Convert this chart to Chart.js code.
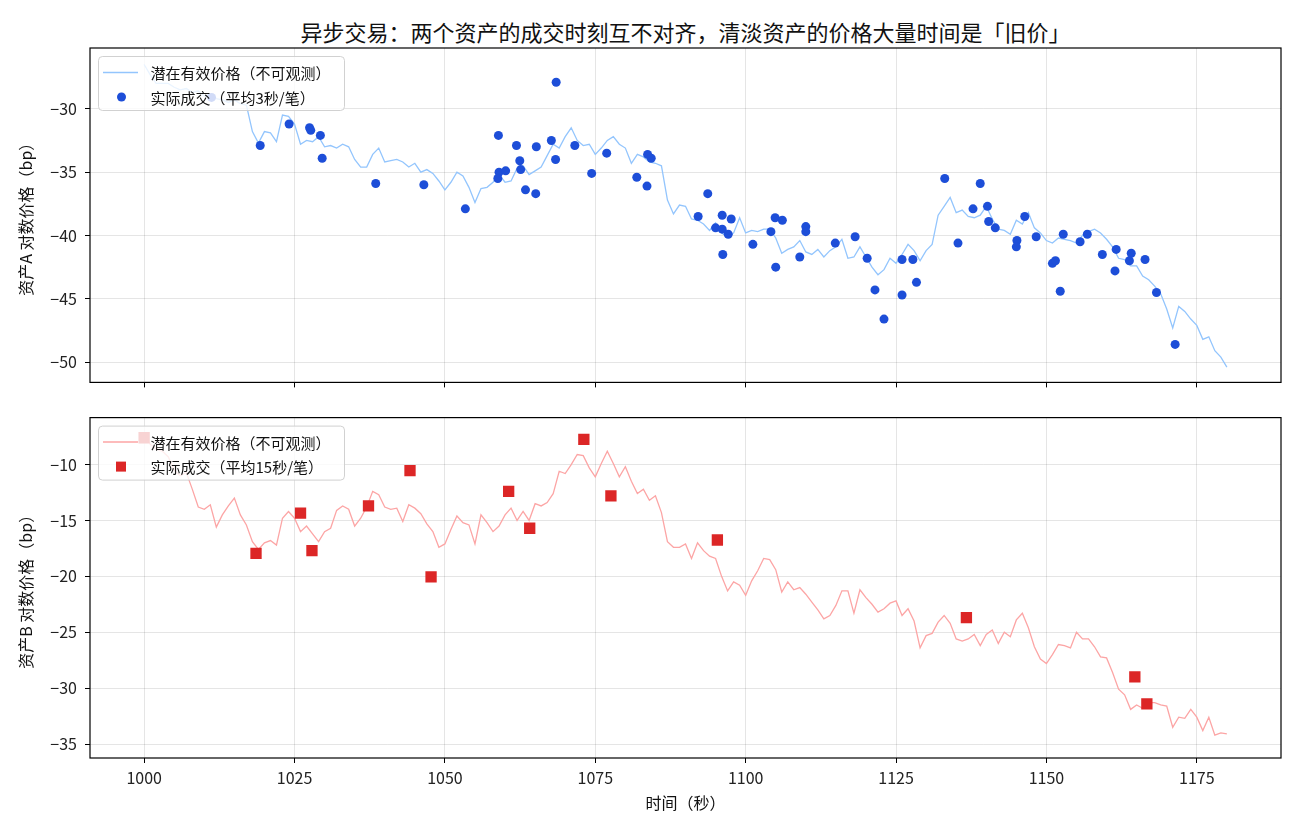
<!DOCTYPE html>
<html lang="zh">
<head>
<meta charset="utf-8">
<title>异步交易</title>
<script src="https://cdn.jsdelivr.net/npm/chart.js@4.4.1/dist/chart.umd.min.js"></script>
<style>
  html, body { margin: 0; padding: 0; background: #fff; }
  #wrap { position: relative; width: 1300px; height: 832px; font-family: 'Noto Sans CJK SC', 'Noto Sans', sans-serif; }
  #title { position: absolute; left: 90px; width: 1191px; top: 16px; text-align: center; font-size: 22px; line-height: 30px; color: #111; }
  canvas { position: absolute; left: 0; }
</style>
</head>
<body>
<div id="wrap">
  <div id="title">异步交易：两个资产的成交时刻互不对齐，清淡资产的价格大量时间是「旧价」</div>
  <canvas id="chart-a" width="1300" height="400" style="top:0"></canvas>
  <canvas id="chart-b" width="1300" height="432" style="top:400px"></canvas>
</div>
<script>
/* ── data ────────────────────────────────────────────────── */

// latent price sampled once per second
const SEC = [
  1000,1001,1002,1003,1004,1005,1006,1007,1008,1009,
  1010,1011,1012,1013,1014,1015,1016,1017,1018,1019,
  1020,1021,1022,1023,1024,1025,1026,1027,1028,1029,
  1030,1031,1032,1033,1034,1035,1036,1037,1038,1039,
  1040,1041,1042,1043,1044,1045,1046,1047,1048,1049,
  1050,1051,1052,1053,1054,1055,1056,1057,1058,1059,
  1060,1061,1062,1063,1064,1065,1066,1067,1068,1069,
  1070,1071,1072,1073,1074,1075,1076,1077,1078,1079,
  1080,1081,1082,1083,1084,1085,1086,1087,1088,1089,
  1090,1091,1092,1093,1094,1095,1096,1097,1098,1099,
  1100,1101,1102,1103,1104,1105,1106,1107,1108,1109,
  1110,1111,1112,1113,1114,1115,1116,1117,1118,1119,
  1120,1121,1122,1123,1124,1125,1126,1127,1128,1129,
  1130,1131,1132,1133,1134,1135,1136,1137,1138,1139,
  1140,1141,1142,1143,1144,1145,1146,1147,1148,1149,
  1150,1151,1152,1153,1154,1155,1156,1157,1158,1159,
  1160,1161,1162,1163,1164,1165,1166,1167,1168,1169,
  1170,1171,1172,1173,1174,1175,1176,1177,1178,1179,
  1180,
];

const LATENT_A = [
  -26.5,-27.3,-28.0,-28.0,-28.0,-28.3,-28.5,-28.4,-28.7,-28.6,
  -29.0,-28.9,-29.2,-29.3,-29.5,-29.3,-29.6,-29.7,-31.8,-32.7,
  -31.8,-31.9,-32.6,-30.5,-30.6,-31.2,-32.8,-32.5,-32.6,-32.2,
  -33.0,-32.9,-33.1,-32.8,-33.0,-34.0,-34.6,-34.6,-33.6,-33.1,
  -34.2,-34.1,-34.0,-34.2,-34.6,-34.3,-35.0,-34.8,-35.1,-35.7,
  -36.4,-35.8,-35.0,-35.3,-36.2,-37.4,-36.3,-36.2,-35.8,-35.2,
  -35.8,-35.7,-34.7,-34.5,-35.2,-34.9,-34.6,-33.7,-32.8,-33.1,
  -32.2,-31.5,-32.5,-32.9,-32.8,-33.6,-33.1,-32.5,-32.2,-32.8,
  -33.1,-34.3,-33.6,-33.8,-34.2,-34.3,-34.5,-37.2,-38.3,-37.6,
  -37.7,-38.7,-38.8,-39.1,-39.6,-39.0,-39.8,-40.1,-39.8,-38.6,
  -39.8,-39.6,-39.7,-39.5,-39.5,-40.2,-41.4,-41.1,-40.9,-40.4,
  -41.3,-41.5,-41.1,-41.7,-41.2,-40.9,-40.3,-41.8,-41.7,-40.9,
  -41.7,-42.5,-43.1,-42.7,-41.8,-42.2,-41.5,-40.7,-41.2,-42.0,
  -41.2,-40.7,-38.4,-37.7,-37.0,-38.2,-38.0,-38.5,-38.6,-38.4,
  -37.7,-38.7,-39.5,-39.6,-39.9,-38.8,-39.1,-38.2,-39.4,-39.8,
  -40.4,-40.6,-40.2,-40.3,-40.4,-40.6,-40.0,-39.7,-39.5,-39.8,
  -40.3,-40.9,-41.8,-41.9,-42.4,-42.4,-43.2,-43.5,-44.0,-44.6,
  -45.8,-47.3,-45.6,-46.0,-46.6,-47.1,-48.2,-48.0,-49.1,-49.6,
  -50.4,
];

const LATENT_B = [
  -7.2,-8.2,-8.6,-8.8,-9.3,-10.5,-11.0,-10.7,-12.2,-13.8,
  -14.0,-13.6,-15.6,-14.5,-13.7,-13.0,-14.5,-15.4,-16.9,-17.6,
  -17.0,-16.8,-17.2,-14.8,-14.2,-14.8,-16.0,-15.5,-16.2,-16.9,
  -16.0,-15.7,-14.1,-13.7,-14.0,-15.5,-14.8,-13.8,-12.4,-12.7,
  -13.8,-14.0,-13.9,-15.1,-13.6,-13.9,-14.4,-15.3,-16.0,-17.4,
  -17.1,-15.8,-14.6,-15.2,-15.4,-17.1,-14.5,-15.2,-16.0,-15.5,
  -14.5,-13.9,-15.0,-14.2,-15.0,-13.5,-13.7,-13.4,-12.6,-10.6,
  -10.8,-10.0,-9.1,-9.2,-10.3,-11.1,-9.9,-8.8,-9.9,-11.1,
  -10.2,-11.5,-12.6,-12.2,-13.2,-12.8,-14.3,-16.9,-17.4,-17.4,
  -17.1,-18.4,-17.0,-17.7,-18.2,-18.4,-20.0,-21.3,-20.5,-20.8,
  -21.7,-20.4,-19.5,-18.4,-18.5,-19.4,-21.4,-20.5,-21.2,-21.0,
  -21.6,-22.3,-23.0,-23.8,-23.5,-22.6,-21.3,-21.3,-23.3,-21.2,
  -21.9,-22.5,-23.2,-22.9,-22.4,-22.2,-23.5,-22.9,-24.0,-26.4,
  -25.3,-25.1,-24.1,-23.5,-24.2,-25.6,-25.8,-25.6,-25.2,-26.2,
  -25.2,-24.8,-26.0,-25.0,-25.4,-23.9,-23.3,-24.6,-26.3,-27.4,
  -27.8,-27.0,-26.1,-26.2,-26.4,-25.0,-25.6,-25.6,-26.3,-27.2,
  -27.3,-28.6,-30.1,-30.6,-31.9,-31.5,-31.8,-31.3,-31.3,-31.5,
  -31.6,-33.5,-32.6,-32.7,-31.9,-32.6,-33.8,-32.6,-34.2,-34.0,
  -34.1,
];

// observed trades, asset A (liquid, ~3 s apart)
const TRADE_A_T = [
  1011.2,1019.3,1024.1,1027.5,1027.7,1029.3,1029.6,1038.5,1046.5,1053.4,
  1058.9,1059.0,1058.8,1060.1,1061.9,1062.45,1062.6,1063.4,1065.2,1065.1,
  1067.7,1068.4,1068.5,1071.6,1074.4,1076.9,1081.9,1083.6,1083.7,1084.3,
  1092.1,1093.7,1095.0,1096.1,1096.1,1096.2,1097.1,1097.6,1101.2,1104.2,
  1104.9,1105.0,1106.1,1109.0,1110.0,1110.0,1114.9,1118.2,1120.2,1121.5,
  1123.0,1126.0,1126.0,1127.8,1128.4,1133.1,1135.3,1137.8,1139.0,1140.2,
  1140.4,1141.5,1145.1,1145.0,1146.4,1148.3,1151.0,1151.5,1152.3,1152.8,
  1155.6,1156.8,1159.3,1161.4,1161.6,1163.8,1164.1,1166.4,1168.3,1171.4,
];
const TRADE_A_V = [
  -29.1,-32.9,-31.2,-31.5,-31.7,-32.1,-33.9,-35.9,-36.0,-37.9,
  -32.1,-35.0,-35.5,-34.9,-32.9,-34.1,-34.8,-36.4,-33.0,-36.7,
  -32.5,-34.0,-27.9,-32.9,-35.1,-33.5,-35.4,-36.1,-33.6,-33.9,
  -38.5,-36.7,-39.4,-38.4,-39.5,-41.5,-39.9,-38.7,-40.7,-39.7,
  -38.6,-42.5,-38.8,-41.7,-39.3,-39.7,-40.6,-40.1,-41.8,-44.3,
  -46.6,-41.9,-44.7,-41.9,-43.7,-35.5,-40.6,-37.9,-35.9,-37.7,
  -38.9,-39.4,-40.4,-40.9,-38.5,-40.1,-42.2,-42.0,-44.4,-39.9,
  -40.5,-39.9,-41.5,-42.8,-41.1,-42.0,-41.4,-41.9,-44.5,-48.6,
];

// observed trades, asset B (illiquid, ~15 s apart)
const TRADE_B_T = [1000.0,1018.6,1026.0,1027.9,1037.3,1044.2,1047.7,1060.6,1064.1,1073.1,1077.6,1095.3,1136.7,1164.7,1166.7];
const TRADE_B_V = [-7.6,-17.95,-14.35,-17.7,-13.7,-10.55,-20.05,-12.4,-15.7,-7.75,-12.8,-16.75,-23.7,-29.0,-31.4];

const X_TICKS = [1000, 1025, 1050, 1075, 1100, 1125, 1150, 1175];
const A_TICKS = [-50, -45, -40, -35, -30];
const B_TICKS = [-35, -30, -25, -20, -15, -10];

/* ── styling ─────────────────────────────────────────────── */

const FONT = "'Noto Sans CJK SC', 'Noto Sans', sans-serif";
const BLUE_LINE = '#93c5fd', BLUE_DOT = '#1d4ed8';
const RED_LINE = '#fca5a5', RED_SQ = '#dc2626';

Chart.defaults.font.family = FONT;
Chart.defaults.font.size = 16;
Chart.defaults.color = '#222';

const minus = v => (v < 0 ? '\u2212' + Math.abs(v) : String(v));
const pts = (xs, ys) => xs.map((x, i) => ({ x, y: ys[i] }));

// axes box + matplotlib-like legend in the upper-left corner
const frameLegend = {
  id: 'frameLegend',
  afterDatasetsDraw(chart, args, opts) {
    const { ctx, chartArea: a } = chart;
    ctx.save();
    ctx.strokeStyle = '#000';
    ctx.lineWidth = 1.2;
    ctx.strokeRect(a.left, a.top, a.right - a.left, a.bottom - a.top);

    const items = opts.items || [];
    ctx.font = `15px ${FONT}`;
    const textW = Math.max(...items.map(it => ctx.measureText(it.label).width));
    const bx = a.left + 8.5, by = a.top + 8.5, bw = textW + 66, bh = 54;
    ctx.beginPath();
    ctx.roundRect(bx, by, bw, bh, 4);
    ctx.fillStyle = 'rgba(255,255,255,0.8)';
    ctx.fill();
    ctx.strokeStyle = 'rgba(204,204,204,0.9)';
    ctx.lineWidth = 1;
    ctx.stroke();

    items.forEach((it, i) => {
      const y = a.top + 24.5 + i * 24.5;
      if (it.kind === 'line') {
        ctx.strokeStyle = it.color;
        ctx.lineWidth = 1.5;
        ctx.beginPath();
        ctx.moveTo(a.left + 13, y);
        ctx.lineTo(a.left + 48, y);
        ctx.stroke();
      } else if (it.kind === 'circle') {
        ctx.fillStyle = it.color;
        ctx.beginPath();
        ctx.arc(a.left + 31.5, y, 4.5, 0, Math.PI * 2);
        ctx.fill();
      } else {
        ctx.fillStyle = it.color;
        ctx.fillRect(a.left + 26, y - 5, 10, 10);
      }
      ctx.fillStyle = '#111';
      ctx.textBaseline = 'middle';
      ctx.fillText(it.label, a.left + 60.5, y + 1);
    });
    ctx.restore();
  },
};

function buildOptions(cfg) {
  return {
    responsive: false,
    animation: false,
    devicePixelRatio: 1,
    layout: { padding: { top: cfg.padTop, right: 19, bottom: 0, left: 0 } },
    plugins: {
      legend: { display: false },
      tooltip: { enabled: false },
      frameLegend: { items: cfg.legend },
    },
    scales: {
      x: {
        type: 'linear', min: 991, max: 1189,
        afterBuildTicks: s => { s.ticks = X_TICKS.map(v => ({ value: v })); },
        afterFit: s => { s.height = cfg.xHeight; },
        ticks: { display: cfg.xLabels, padding: 5, callback: v => String(v) },
        grid: { color: 'rgba(0,0,0,0.1)', tickColor: '#000', tickLength: 5, lineWidth: 1 },
        border: { display: false },
        title: { display: cfg.xLabels, text: '时间（秒）', color: '#111', padding: { top: 4, bottom: 19 } },
      },
      y: {
        type: 'linear', min: cfg.yMin, max: cfg.yMax,
        afterBuildTicks: s => { s.ticks = cfg.yTicks.map(v => ({ value: v })); },
        afterFit: s => { s.width = 90; },
        ticks: { padding: 8, callback: v => minus(v) },
        grid: { color: 'rgba(0,0,0,0.1)', tickColor: '#000', tickLength: 5, lineWidth: 1 },
        border: { display: false },
        title: { display: true, text: cfg.yTitle, color: '#111', padding: { top: 16, bottom: 0 } },
      },
    },
  };
}

new Chart(document.getElementById('chart-a'), {
  type: 'scatter',
  data: {
    datasets: [
      { label: '潜在有效价格（不可观测）', data: pts(SEC, LATENT_A), showLine: true,
        borderColor: BLUE_LINE, borderWidth: 1.3, pointRadius: 0, order: 2 },
      { label: '实际成交（平均3秒/笔）', data: pts(TRADE_A_T, TRADE_A_V),
        pointStyle: 'circle', pointRadius: 4.5, backgroundColor: BLUE_DOT, borderWidth: 0, order: 1 },
    ],
  },
  options: buildOptions({
    padTop: 48, xHeight: 10, xLabels: false,
    yMin: -51.6, yMax: -25.2, yTicks: A_TICKS, yTitle: '资产A 对数价格（bp）',
    legend: [
      { kind: 'line', color: BLUE_LINE, label: '潜在有效价格（不可观测）' },
      { kind: 'circle', color: BLUE_DOT, label: '实际成交（平均3秒/笔）' },
    ],
  }),
  plugins: [frameLegend],
});

new Chart(document.getElementById('chart-b'), {
  type: 'scatter',
  data: {
    datasets: [
      { label: '潜在有效价格（不可观测）', data: pts(SEC, LATENT_B), showLine: true,
        borderColor: RED_LINE, borderWidth: 1.3, pointRadius: 0, order: 2 },
      { label: '实际成交（平均15秒/笔）', data: pts(TRADE_B_T, TRADE_B_V),
        pointStyle: 'rect', pointRadius: 8, backgroundColor: RED_SQ, borderWidth: 0, order: 1 },
    ],
  },
  options: buildOptions({
    padTop: 16, xHeight: 74, xLabels: true,
    yMin: -36.25, yMax: -5.8, yTicks: B_TICKS, yTitle: '资产B 对数价格（bp）',
    legend: [
      { kind: 'line', color: RED_LINE, label: '潜在有效价格（不可观测）' },
      { kind: 'rect', color: RED_SQ, label: '实际成交（平均15秒/笔）' },
    ],
  }),
  plugins: [frameLegend],
});
</script>
</body>
</html>
